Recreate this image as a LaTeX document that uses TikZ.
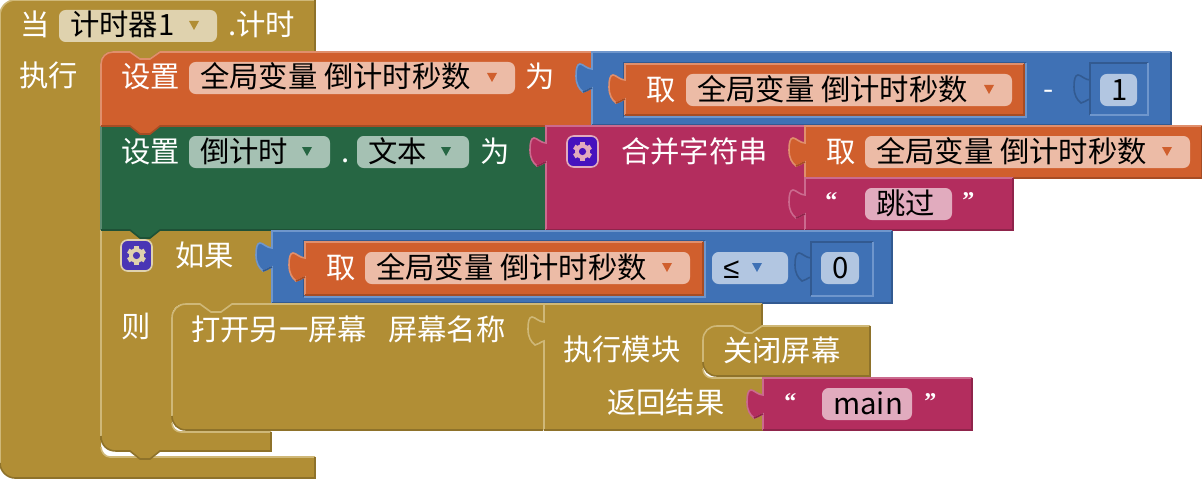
\documentclass[tikz,border=0pt]{standalone}
\usepackage{fontspec}
\setmainfont{Noto Sans CJK SC}
\newfontfamily\quotefont{Liberation Serif}
\newfontfamily\symbolfont{Liberation Sans}
\definecolor{blkgold}{HTML}{B18E35}
\definecolor{blkgoldlt}{HTML}{CFB878}
\definecolor{blkgolddk}{HTML}{8E722A}
\definecolor{blkgoldfd}{HTML}{DFD2AE}
\definecolor{blkorange}{HTML}{D05F2D}
\definecolor{blkorangelt}{HTML}{E08F6C}
\definecolor{blkorangedk}{HTML}{A64C24}
\definecolor{blkorangefd}{HTML}{ECBBA6}
\definecolor{blkblue}{HTML}{3F71B5}
\definecolor{blkbluelt}{HTML}{6F96CC}
\definecolor{blkbluedk}{HTML}{325A91}
\definecolor{blkbluefd}{HTML}{B2C6E1}
\definecolor{blkgreen}{HTML}{266643}
\definecolor{blkgreenlt}{HTML}{5C8B72}
\definecolor{blkgreendk}{HTML}{1E5136}
\definecolor{blkgreenfd}{HTML}{A5C1B3}
\definecolor{blkpink}{HTML}{B32D5E}
\definecolor{blkpinklt}{HTML}{CB6A8E}
\definecolor{blkpinkdk}{HTML}{8F244B}
\definecolor{blkpinkfd}{HTML}{E1ABBE}
\definecolor{gearviolet}{HTML}{4612BE}
\definecolor{gearblue}{HTML}{4A36B5}
\def\pxu{0.75pt}
\tikzset{
    every node/.style={font=\fontsize{22}{24}\selectfont},
    edge/.style={line width=1.2pt},
    fld/.style={rounded corners=5pt, inner sep=0pt, minimum height=32*\pxu},
    lbl/.style={anchor=base west, inner sep=0pt, text=white},
    fldtext/.style={anchor=base west, inner sep=0pt, text=black},
    quotemark/.style={anchor=base west, inner sep=0pt, text=white, font=\quotefont\bfseries\fontsize{18}{24}\selectfont},
    gearbox/.style={rounded corners=5pt, inner sep=0pt, minimum size=31*\pxu, line width=1.2pt},
}
\newcommand\pinup[2]{(#1,#2+24) .. controls (#1-4,#2+25) and (#1-6,#2+28) .. (#1-9,#2+28) .. controls (#1-13,#2+25) and (#1-16,#2+20) .. (#1-16,#2+12) .. controls (#1-16,#2+5) and (#1-15,#2) .. (#1-12,#2) .. controls (#1-9,#2) and (#1-5,#2+5) .. (#1,#2+5)}
\newcommand\valblock[6]{
    \fill[#1] (#2,#3) -- (#4,#3) -- (#4,#5) -- (#2,#5) -- \pinup{#2}{#6} -- cycle;
    \draw[edge, #1lt] (#2,#5) -- \pinup{#2}{#6} -- (#2,#3) -- (#4,#3);
    \draw[edge, #1dk] (#4,#3) -- (#4,#5) -- (#2,#5);
    \draw[edge, #1dk] (#2,#6+24) .. controls (#2-4,#6+25) and (#2-6,#6+28) .. (#2-9,#6+28);
}
\newcommand\inset[5]{
    \draw[edge, #1dk] (#2,#5) -- (#2,#3) -- (#4,#3);
    \draw[edge, #1lt] (#4,#3) -- (#4,#5) -- (#2,#5);
}
\newcommand\fieldbox[6]{
    \node (#1) [fld, fill=#2fd, minimum width={(#4-#3)*\pxu}] at ({(#3+#4)/2},#5) {};
    \node (#1-t) [fldtext] at (#3+11,#5+10) {#6};
}
\newcommand\dropfield[6]{
    \fieldbox{#1}{#2}{#3}{#4}{#5}{#6}
    \fill[#2] (#4-28,#5-5) -- (#4-18,#5-5) -- (#4-23,#5+4) -- cycle;
}
\newcommand\gearicon[6]{
    \node (#1) [gearbox, fill=#4, draw=#5] at (#2,#3) {};
    \foreach \a in {30,90,...,330} {
        \draw[#6, line width=3.6pt] (#2,#3) -- ++(\a:9.5);
    }
    \fill[#6] (#2,#3) circle [radius=7.5];
    \fill[#4] (#2,#3) circle [radius=3.6];
}
\begin{document}
\begin{tikzpicture}[x=0.75pt, y=-0.75pt]
    \useasboundingbox (0,0) rectangle (1202,478);

    \fill[blkgold] (0,15) .. controls (0,7) and (7,0) .. (15,0) -- (315,0) -- (315,52) -- (160,52) -- (150,59) -- (140,59) -- (130,52) -- (113,52) .. controls (106,52) and (101,57) .. (101,64) -- (101,447) .. controls (101,452) and (105,457) .. (110,457) -- (315,457) -- (315,478) -- (15,478) .. controls (7,478) and (0,471) .. (0,463) -- cycle;
    \draw[edge, blkgoldlt] (0,463) -- (0,15) .. controls (0,7) and (7,0) .. (15,0) -- (315,0);
    \draw[edge, blkgoldlt] (101,447) .. controls (101,452) and (105,457) .. (110,457) -- (315,457);
    \draw[edge, blkgolddk] (315,0) -- (315,52) -- (160,52) -- (150,59) -- (140,59) -- (130,52) -- (113,52) .. controls (106,52) and (101,57) .. (101,64) -- (101,440);
    \draw[edge, blkgolddk] (315,457) -- (315,478) -- (15,478) .. controls (7,478) and (0,471) .. (0,463);

    \fill[blkgold] (101,230) -- (271,230) -- (271,304) -- (232,304) -- (221,312) -- (211,312) -- (200,304) -- (184,304) .. controls (177,304) and (172,309) .. (172,316) -- (172,423) .. controls (172,428) and (176,432) .. (181,432) -- (271,432) -- (271,451) -- (160,451) -- (150,459) -- (140,459) -- (130,451) -- (116,451) .. controls (107,451) and (101,445) .. (101,436) -- cycle;
    \draw[edge, blkgoldlt] (101,436) -- (101,230) -- (271,230);
    \draw[edge, blkgoldlt] (172,423) .. controls (172,428) and (176,432) .. (181,432) -- (271,432);
    \draw[edge, blkgolddk] (271,432) -- (271,451) -- (160,451) -- (150,459) -- (140,459) -- (130,451) -- (116,451) .. controls (107,451) and (101,445) .. (101,436);

    \fill[blkgreen] (101,126) -- (546,126) -- (546,230) -- (160,230) -- (150,238) -- (140,238) -- (130,230) -- (101,230) -- cycle;
    \draw[edge, blkgreenlt] (101,230) -- (101,126) -- (546,126);
    \draw[edge, blkgreendk] (546,230) -- (160,230) -- (150,238) -- (140,238) -- (130,230) -- (101,230);

    \fill[blkorange] (101,64) .. controls (101,57) and (106,52) .. (113,52) -- (130,52) -- (140,59) -- (150,59) -- (160,52) -- (592,52) -- (592,126) -- (160,126) -- (150,134) -- (140,134) -- (130,126) -- (101,126) -- cycle;
    \draw[edge, blkorangelt] (101,126) -- (101,64) .. controls (101,57) and (106,52) .. (113,52) -- (130,52) -- (140,59) -- (150,59) -- (160,52) -- (592,52);
    \draw[edge, blkorangedk] (592,126) -- (160,126) -- (150,134) -- (140,134) -- (130,126) -- (101,126);

    \valblock{blkblue}{592}{52}{1171}{125}{64}
    \inset{blkblue}{624}{63}{1026}{117}
    \valblock{blkorange}{625}{64}{1024}{115}{75}
    \inset{blkblue}{1090}{63}{1148}{115}
    \draw[edge, blkbluedk] \pinup{1090}{75};

    \valblock{blkpink}{546}{126}{805}{230}{138}
    \valblock{blkorange}{805}{126}{1202}{178}{138}
    \valblock{blkpink}{805}{178}{1013}{230}{190}

    \valblock{blkblue}{272}{231}{892}{303}{243}
    \inset{blkblue}{304}{241}{705}{297}
    \valblock{blkorange}{305}{242}{703}{295}{253}
    \inset{blkblue}{811}{242}{873}{296}
    \draw[edge, blkbluedk] \pinup{811}{253};

    \fill[blkgold] (186,304) -- (200,304) -- (211,312) -- (221,312) -- (232,304) -- (543,304) -- (543,430) -- (186,430) .. controls (178,430) and (172,424) .. (172,416) -- (172,318) .. controls (172,310) and (178,304) .. (186,304) -- cycle;
    \draw[edge, blkgoldlt] (172,416) -- (172,318) .. controls (172,310) and (178,304) .. (186,304) -- (200,304) -- (211,312) -- (221,312) -- (232,304) -- (543,304);
    \draw[edge, blkgolddk] (543,430) -- (186,430) .. controls (178,430) and (172,424) .. (172,416);

    \fill[blkgold] (544,304) -- (762,304) -- (762,326) -- (752,333) -- (745,333) -- (733,326) -- (717,326) .. controls (709,326) and (703,332) .. (703,340) -- (703,369) .. controls (703,374) and (707,378) .. (712,378) -- (763,378) -- (763,430) -- (544,430) -- \pinup{544}{317} -- cycle;
    \draw[edge, blkgoldlt] (544,430) -- \pinup{544}{317} -- (544,304) -- (762,304);
    \draw[edge, blkgoldlt] (703,369) .. controls (703,374) and (707,378) .. (712,378) -- (763,378);
    \draw[edge, blkgolddk] (762,304) -- (762,326);
    \draw[edge, blkgolddk] (763,430) -- (544,430);

    \fill[blkgold] (717,326) -- (733,326) -- (745,333) -- (752,333) -- (762,326) -- (870,326) -- (870,376) -- (717,376) .. controls (709,376) and (703,370) .. (703,362) -- (703,340) .. controls (703,332) and (709,326) .. (717,326) -- cycle;
    \draw[edge, blkgoldlt] (703,362) -- (703,340) .. controls (703,332) and (709,326) .. (717,326) -- (733,326) -- (745,333) -- (752,333) -- (762,326) -- (870,326);
    \draw[edge, blkgolddk] (870,326) -- (870,376) -- (717,376) .. controls (709,376) and (703,370) .. (703,362);

    \valblock{blkpink}{763}{378}{972}{430}{390}

    \node (whenLbl) [lbl] at (20,36) {当};
    \dropfield{timerFld}{blkgold}{59}{217}{26}{计时器1}
    \node (timerLbl) [lbl] at (228,36) {.计时};
    \node (doLbl) [lbl] at (19,86) {执行};

    \node (setLbl) [lbl] at (121,88) {设置};
    \dropfield{secFld}{blkorange}{189}{515}{78}{全局变量 倒计时秒数}
    \node (asLbl) [lbl] at (525,88) {为};
    \node (getLbl) [lbl] at (646,100) {取};
    \dropfield{getFld}{blkorange}{686}{1012}{90}{全局变量 倒计时秒数}
    \node (minusLbl) [lbl] at (1043,99) {-};
    \fieldbox{oneFld}{blkblue}{1100}{1137}{90}{1}

    \node (setTextLbl) [lbl] at (121,162) {设置};
    \dropfield{compFld}{blkgreen}{189}{330}{152}{倒计时}
    \node (dotLbl) [lbl] at (341,162) {.};
    \dropfield{propFld}{blkgreen}{357}{469}{152}{文本}
    \node (asTextLbl) [lbl] at (480,162) {为};
    \gearicon{joinGear}{582.5}{151.5}{gearviolet}{blkpinkfd}{blkpinkfd}
    \node (joinLbl) [lbl] at (621,162) {合并字符串};
    \node (getJoinLbl) [lbl] at (826,162) {取};
    \dropfield{getJoinFld}{blkorange}{865}{1190}{152}{全局变量 倒计时秒数}
    \node (openSkip) [quotemark] at (825,208) {“};
    \fieldbox{skipFld}{blkpink}{865}{952}{204}{跳过}
    \node (closeSkip) [quotemark] at (962,208) {”};

    \gearicon{ifGear}{136.5}{255.5}{gearblue}{blkgoldfd}{blkgoldfd}
    \node (ifLbl) [lbl] at (175,266) {如果};
    \node (getIfLbl) [lbl] at (326,278) {取};
    \dropfield{getIfFld}{blkorange}{365}{690}{268}{全局变量 倒计时秒数}
    \fieldbox{leFld}{blkblue}{712}{788}{268}{\symbolfont ≤}
    \fill[blkblue] (752,263) -- (762,263) -- (757,272) -- cycle;
    \fieldbox{zeroFld}{blkblue}{821}{859}{268}{0}

    \node (thenLbl) [lbl] at (121,337) {则};
    \node (openLbl) [lbl] at (191,340) {打开另一屏幕};
    \node (nameLbl) [lbl] at (388,340) {屏幕名称};
    \node (execLbl) [lbl] at (563,360) {执行模块};
    \node (closeLbl) [lbl] at (723,361) {关闭屏幕};
    \node (returnLbl) [lbl] at (607,413) {返回结果};
    \node (openMain) [quotemark] at (784,409) {“};
    \fieldbox{mainFld}{blkpink}{822}{912}{404}{main}
    \node (closeMain) [quotemark] at (924,409) {”};
\end{tikzpicture}
\end{document}
